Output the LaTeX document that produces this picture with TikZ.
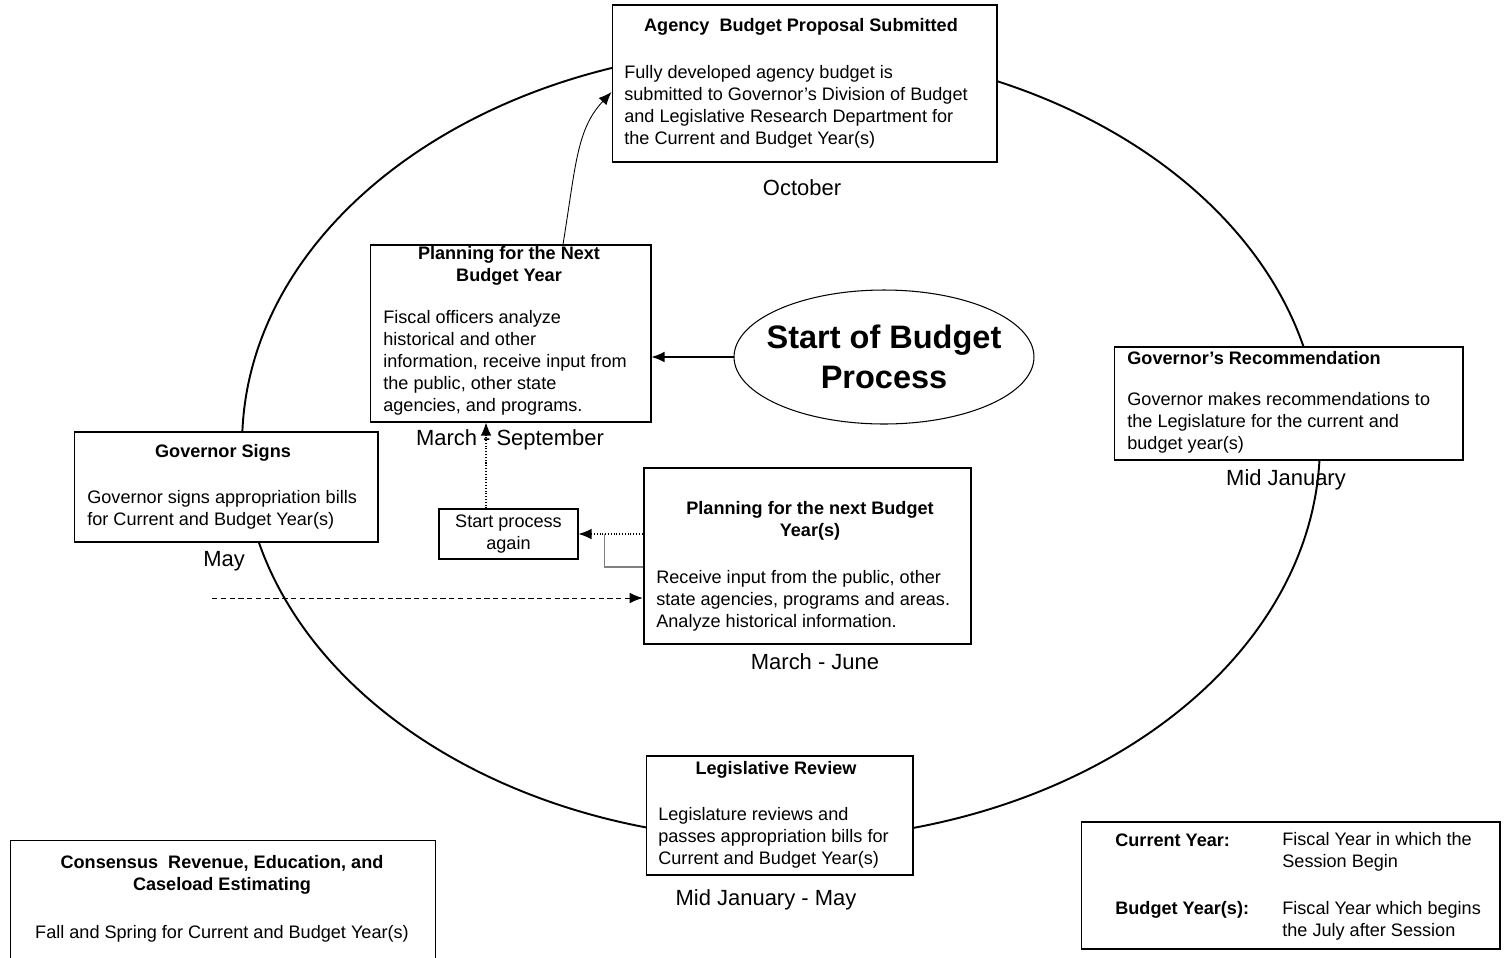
\documentclass[tikz,border=0pt]{standalone}
\usepackage{fontspec}
\setmainfont{Liberation Sans}
\usetikzlibrary{arrows.meta,shapes.geometric}

\tikzset{
  box/.style={draw, fill=white, line width=0.6pt, inner sep=0pt},
  ttl/.style={font=\bfseries\fontsize{10.3}{12.5}\selectfont, align=center, inner sep=0pt},
  txt/.style={font=\fontsize{10.3}{12.5}\selectfont, align=left, inner sep=0pt},
  month/.style={font=\fontsize{12.5}{15}\selectfont, inner sep=0pt},
  arr/.style={-{Latex[length=2.6mm,width=2.1mm]}},
}

\begin{document}
\begin{tikzpicture}[x=0.02cm,y=-0.02cm]
\useasboundingbox (0,0) rectangle (1507,957);

% cycle
\draw[line width=1.1pt] (781,444) ellipse [x radius=10.78cm, y radius=7.92cm];

% Agency proposal
\node[box, minimum width=7.7cm, minimum height=3.14cm] (agency) at (804.5,83.5) {};
\node[ttl, anchor=base] (agencyttl) at (801,31) {Agency\ \ Budget Proposal Submitted};
\node[txt, anchor=base west] (agencytxt) at (624,144)
  {Fully developed agency budget is\\submitted to Governor's Division of Budget\\and Legislative Research Department for\\the Current and Budget Year(s)};
\node[month] (oct) at (802,188) {October};

% Planning, next budget year
\node[box, minimum width=5.62cm, minimum height=3.54cm] (plan) at (510.5,333.5) {};
\node[ttl, anchor=base] (planttl) at (509,281) {Planning for the Next\\Budget Year};
\node[txt, anchor=base west] (plantxt) at (383,411)
  {Fiscal officers analyze\\historical and other\\information, receive input from\\the public, other state\\agencies, and programs.};
\node[month] (marsep) at (510,440) {March - September};

% Start
\node[draw, ellipse, fill=white, line width=0.6pt, inner sep=0pt,
  minimum width=6cm, minimum height=2.68cm] (start) at (884,357) {};
\node[font=\bfseries\fontsize{18.5}{23}\selectfont, align=center, inner sep=0pt] (starttxt) at (start.center) {Start of Budget\\Process};

% Governor's recommendation
\node[box, minimum width=6.98cm, minimum height=2.26cm] (govrec) at (1288.5,403.5) {};
\node[ttl, anchor=base west] (govrecttl) at (1127,364) {Governor's Recommendation};
\node[txt, anchor=base west] (govrectxt) at (1127,449)
  {Governor makes recommendations to\\the Legislature for the current and\\budget year(s)};
\node[month] (midjan) at (1286,480) {Mid January};

% Governor signs
\node[box, minimum width=6.08cm, minimum height=2.2cm] (signs) at (226,487) {};
\node[ttl, anchor=base] (signsttl) at (223,457) {Governor Signs};
\node[txt, anchor=base west] (signstxt) at (87,525)
  {Governor signs appropriation bills\\for Current and Budget Year(s)};
\node[month] (may) at (224,561) {May};

% Start again
\node[box, minimum width=2.78cm, minimum height=1cm, font=\fontsize{10.3}{12.5}\selectfont, align=center] (again) at (508.5,534) {Start process\\again};

% Planning, next budget year(s)
\node[box, line width=1.5pt, minimum width=6.54cm, minimum height=3.52cm] (next) at (807.5,556) {};
\node[ttl, anchor=base] (nextttl) at (810,536) {Planning for the next Budget\\Year(s)};
\node[txt, anchor=base west] (nexttxt) at (656,627)
  {Receive input from the public, other\\state agencies, programs and areas.\\Analyze historical information.};
\node[month] (marjun) at (815,662) {March - June};

% Legislative review
\node[box, minimum width=5.34cm, minimum height=2.38cm] (legis) at (779.5,815.5) {};
\node[ttl, anchor=base] (legisttl) at (776,774) {Legislative Review};
\node[txt, anchor=base west] (legistxt) at (658,864)
  {Legislature reviews and\\passes appropriation bills for\\Current and Budget Year(s)};
\node[month] (janmay) at (766,900) {Mid January - May};

% Consensus estimating
\node[box, minimum width=8.52cm, minimum height=2.6cm] (consensus) at (223,905) {};
\node[ttl, anchor=base] (consensusttl) at (222,890) {Consensus\ \ Revenue, Education, and\\Caseload Estimating};
\node[txt, anchor=base] (consensustxt) at (222,938) {Fall and Spring for Current and Budget Year(s)};

% Definitions
\node[box, minimum width=8.38cm, minimum height=2.54cm] (defs) at (1290.5,885.5) {};
\node[ttl, anchor=base west] (curttl) at (1115,846) {Current Year:};
\node[txt, anchor=base west] (curtxt) at (1282,867) {Fiscal Year in which the\\Session Begin};
\node[ttl, anchor=base west] (budttl) at (1115,914) {Budget Year(s):};
\node[txt, anchor=base west] (budtxt) at (1282,936) {Fiscal Year which begins\\the July after Session};

% connectors
\draw[arr, line width=0.6pt] (start.west) -- (start.west -| plan.east);
\draw[arr, line width=0.5pt] ([xshift=1.05cm]plan.north) .. controls +(0.26cm,1.6cm) and +(-0.7cm,-0.75cm) .. ([yshift=-0.17cm]agency.west);
\draw[arr, densely dotted, line width=0.6pt] ([xshift=-0.45cm]again.north) -- ([xshift=-0.45cm]again.north |- plan.south);
\draw[arr, densely dotted, line width=0.6pt] (again.east -| next.west) -- (again.east);
\draw[gray, line width=0.7pt] ([xshift=0.52cm]again.east) |- ([yshift=-0.22cm]next.west);
\coordinate (lefttail) at (212,598);
\draw[arr, densely dashed, line width=0.5pt] (lefttail) -- (lefttail -| next.west);
\end{tikzpicture}
\end{document}
